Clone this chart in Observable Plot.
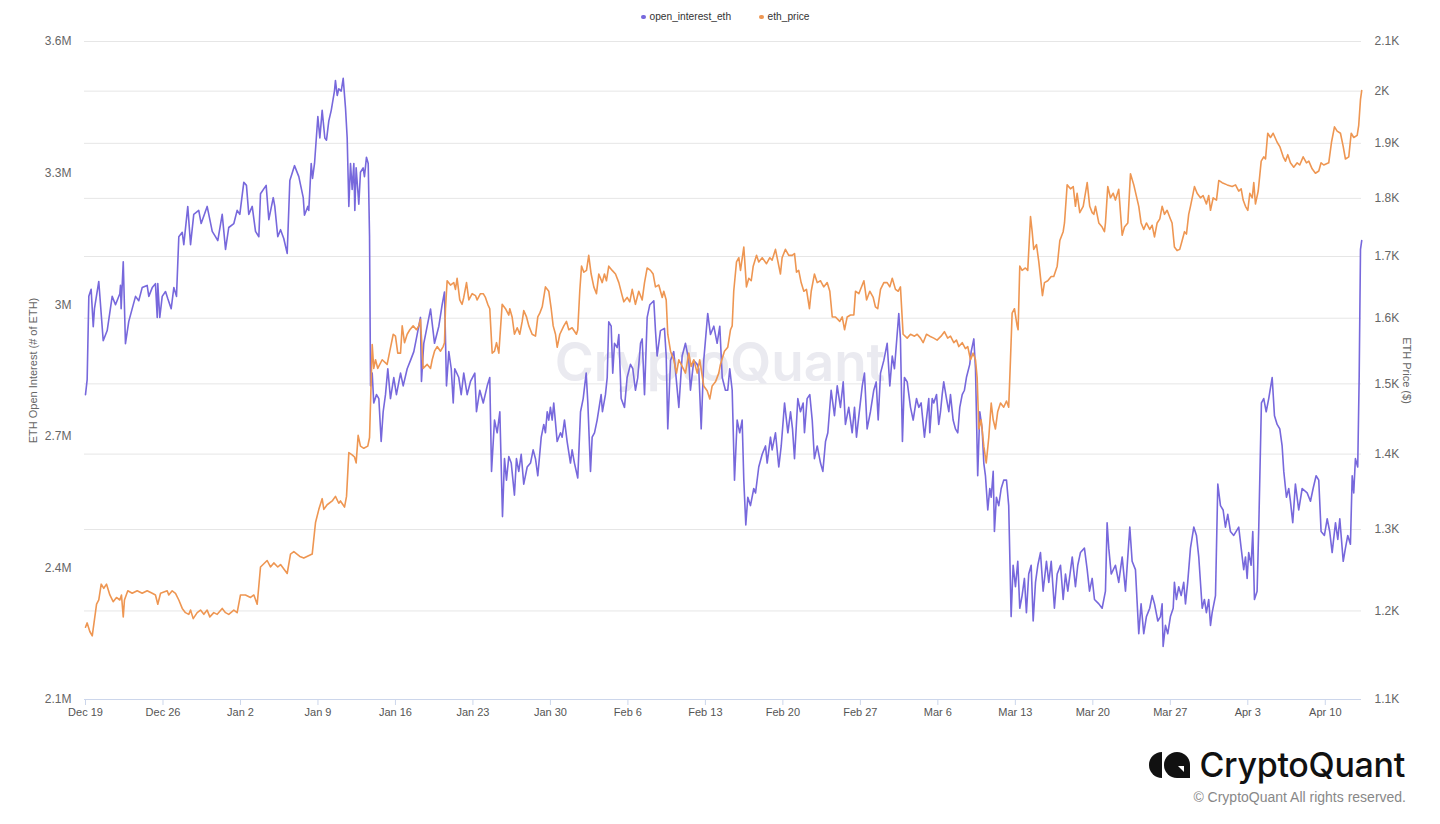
<!DOCTYPE html>
<html><head><meta charset="utf-8">
<script src="https://cdn.jsdelivr.net/npm/d3@7"></script>
<script src="https://cdn.jsdelivr.net/npm/@observablehq/plot@0.6"></script>
<style>
body{margin:0;background:#fff;font-family:"Liberation Sans",Arial,sans-serif;}
#wrap{position:relative;width:1440px;height:824px;overflow:hidden;}
#chart{position:absolute;left:0;top:0;}
#legend{position:absolute;top:10px;left:641px;font-size:10.2px;color:#333;white-space:nowrap;}
#legend span.item{display:inline-flex;align-items:center;margin-right:28px;}
#legend span.dot{display:inline-block;width:4.5px;height:4.5px;border-radius:50%;margin-right:4px;}
#logo{position:absolute;right:35px;top:744px;display:flex;align-items:center;}
#logo .name{font-family:Inter,"Noto Sans",sans-serif;font-weight:500;font-size:34px;color:#111;letter-spacing:-0.3px;margin-left:8px;}
#copy{position:absolute;right:34px;top:789px;font-size:14px;color:#888;}
</style></head>
<body>
<div id="wrap">
  <div id="chart"></div>
  <div id="legend"></div>
  <div id="logo">
    <svg width="42" height="28" viewBox="0 0 42 28">
      <path d="M13,1 A13,13 0 0 0 13,27 L13,1 Z" fill="#111"/>
      <circle cx="28" cy="14" r="13" fill="#111"/>
      <path d="M28,14 L41,14 L41,27 L28,27 Z" fill="#111"/>
      <path d="M29,15 L35,15 L35,21 Z" fill="#fff"/>
    </svg>
    <span class="name">CryptoQuant</span>
  </div>
  <div id="copy">© CryptoQuant All rights reserved.</div>
</div>
<script>
// ---- data ----
const startDate = "2022-12-19T00:00:00Z";
const xDomain = ["2022-12-18T21:50:00Z", "2023-04-13T06:30:00Z"];
const xTicks = ["2022-12-19","2022-12-26","2023-01-02","2023-01-09","2023-01-16","2023-01-23","2023-01-30","2023-02-06","2023-02-13","2023-02-20","2023-02-27","2023-03-06","2023-03-13","2023-03-20","2023-03-27","2023-04-03","2023-04-10"];
const oiTicks = [2.1e6, 2.4e6, 2.7e6, 3.0e6, 3.3e6, 3.6e6];
const priceTicks = [1100, 1200, 1300, 1400, 1500, 1600, 1700, 1800, 1900, 2000, 2100];
const seriesNames = ["open_interest_eth", "eth_price"];
const seriesColors = ["#7768dc", "#ee9652"];

// open interest (days since start, millions of ETH)
const oiDays = [0,0.15,0.3,0.51,0.7,0.81,1.2,1.6,1.96,2.41,2.71,3.1,3.16,3.22,3.41,3.61,3.91,4.22,4.52,4.81,5.12,5.57,5.72,6.03,6.32,6.48,6.53,6.71,6.93,7.23,7.43,7.74,7.98,8.22,8.43,8.74,8.88,9.24,9.49,9.78,10.23,10.45,10.99,11.45,11.74,11.95,12.35,12.65,12.94,13.4,13.7,13.94,14.3,14.54,14.75,15.06,15.36,15.66,15.81,16.32,16.56,16.96,17.1,17.37,17.62,17.91,18.22,18.46,18.88,19.27,19.67,19.78,20.08,20.17,20.39,20.51,20.69,20.99,21.17,21.38,21.62,21.77,21.98,22.2,22.49,22.58,22.74,22.88,23.1,23.28,23.49,23.64,23.79,23.94,24.09,24.24,24.33,24.45,24.69,24.84,25.08,25.2,25.38,25.54,25.66,25.75,25.9,26.04,26.29,26.5,26.71,26.89,27.1,27.31,27.55,27.85,28.09,28.46,28.7,29.06,29.36,29.66,29.96,30.26,30.35,30.56,31.17,31.53,31.92,32.22,32.43,32.61,32.82,33.04,33.22,33.36,33.72,33.94,34.17,34.48,34.78,35.17,35.32,35.62,35.93,36.29,36.52,36.68,36.95,37.19,37.43,37.67,37.85,38.03,38.24,38.46,38.75,38.93,39.14,39.36,39.59,39.9,40.2,40.44,40.65,40.86,41.17,41.4,41.55,41.71,41.85,42.0,42.16,42.3,42.61,42.91,43.06,43.27,43.51,43.81,43.96,44.17,44.47,44.72,44.96,45.23,45.38,45.62,45.77,45.98,46.22,46.4,46.58,46.7,46.97,47.13,47.27,47.49,47.63,47.79,48.03,48.18,48.39,48.69,48.93,49.23,49.44,49.68,49.89,50.14,50.29,50.5,50.74,50.98,51.34,51.49,51.64,51.94,52.3,52.46,52.6,52.85,53.14,53.6,53.9,54.2,54.5,54.65,54.95,55.26,55.4,55.62,55.85,56.21,56.46,56.76,57.06,57.3,57.52,57.81,58.02,58.2,58.42,58.63,58.87,59.1,59.32,59.47,59.65,59.83,60.07,60.37,60.53,60.82,61.13,61.43,61.58,61.88,62.03,62.33,62.63,62.85,63.15,63.45,63.69,63.87,64.05,64.35,64.59,64.83,64.95,65.19,65.43,65.65,65.85,66.1,66.4,66.61,66.85,67.06,67.36,67.66,67.91,68.2,68.45,68.65,68.95,69.26,69.47,69.65,69.95,70.17,70.37,70.61,70.91,71.21,71.43,71.61,71.82,72.12,72.42,72.66,72.88,73.08,73.26,73.47,73.62,73.8,73.98,74.23,74.53,74.77,75.07,75.28,75.49,75.79,76.18,76.27,76.49,76.63,76.88,77.08,77.24,77.39,77.53,77.78,77.99,78.14,78.38,78.59,78.8,78.98,79.2,79.4,79.58,79.88,80.01,80.25,80.4,80.6,80.79,81.0,81.15,81.3,81.51,81.69,81.82,82.0,82.11,82.29,82.5,82.72,82.95,83.2,83.4,83.62,83.8,84.01,84.22,84.4,84.61,84.82,85.0,85.21,85.43,85.61,85.82,86.03,86.27,86.51,86.81,87.02,87.24,87.53,87.78,88.08,88.32,88.53,88.74,89.14,89.43,89.64,89.88,90.24,90.49,90.7,90.94,91.15,91.54,91.84,92.14,92.29,92.44,92.66,93.04,93.34,93.65,93.95,94.34,94.55,94.85,95.15,95.36,95.6,95.84,96.14,96.36,96.57,96.87,97.11,97.26,97.35,97.56,97.77,98.01,98.26,98.37,98.55,98.76,98.98,99.21,99.37,99.57,99.82,100.12,100.36,100.57,100.88,101.08,101.26,101.47,101.63,101.78,102.08,102.29,102.53,102.77,102.98,103.19,103.43,103.73,104.18,104.4,104.63,104.79,104.94,105.08,105.3,105.45,105.6,105.84,105.99,106.23,106.44,106.66,106.89,107.2,107.41,107.65,107.89,108.1,108.25,108.49,108.7,108.85,109.06,109.3,109.6,109.91,110.36,110.66,110.9,111.17,111.41,111.62,111.92,112.17,112.4,112.62,112.92,113.13,113.31,113.62,113.82,114.03,114.27,114.43,114.57,114.72,114.93,115.06,115.18,115.29];
const oiValues = [2.795,2.829,3.019,3.035,2.95,2.991,3.053,2.918,2.941,3.019,3.0,3.025,3.044,2.991,3.098,2.911,2.962,2.991,3.019,3.009,3.039,3.044,3.019,3.039,3.048,2.971,3.048,2.971,3.019,3.03,3.014,2.991,3.039,3.019,3.155,3.165,3.137,3.224,3.137,3.206,3.215,3.185,3.224,3.167,3.155,3.146,3.206,3.126,3.176,3.185,3.215,3.206,3.279,3.272,3.206,3.224,3.167,3.155,3.253,3.272,3.194,3.244,3.224,3.155,3.171,3.151,3.117,3.283,3.317,3.292,3.244,3.204,3.224,3.215,3.322,3.288,3.322,3.429,3.38,3.443,3.38,3.375,3.419,3.443,3.487,3.511,3.477,3.492,3.487,3.516,3.448,3.38,3.224,3.322,3.263,3.322,3.215,3.312,3.229,3.302,3.312,3.292,3.336,3.322,3.155,2.815,2.844,2.776,2.795,2.786,2.688,2.756,2.795,2.854,2.786,2.834,2.795,2.844,2.815,2.854,2.873,2.893,2.932,2.971,2.825,2.912,2.99,2.912,2.951,3.0,3.029,2.815,2.893,2.854,2.776,2.854,2.834,2.795,2.844,2.795,2.825,2.844,2.756,2.805,2.776,2.815,2.834,2.62,2.737,2.708,2.756,2.517,2.649,2.6,2.654,2.639,2.566,2.649,2.62,2.659,2.591,2.63,2.639,2.669,2.649,2.61,2.698,2.727,2.708,2.756,2.737,2.766,2.737,2.776,2.688,2.708,2.698,2.737,2.688,2.639,2.669,2.639,2.605,2.756,2.786,2.844,2.776,2.62,2.698,2.708,2.737,2.766,2.795,2.756,2.795,2.834,2.961,2.951,2.844,2.912,2.902,2.932,2.786,2.766,2.834,2.864,2.854,2.805,2.834,2.912,2.922,2.795,2.971,3.0,3.009,2.941,2.883,2.941,2.946,2.883,2.717,2.873,2.893,2.766,2.883,2.912,2.873,2.805,2.873,2.864,2.854,2.717,2.873,2.98,2.932,2.951,2.912,2.951,2.834,2.805,2.805,2.854,2.805,2.6,2.737,2.708,2.737,2.6,2.498,2.561,2.542,2.581,2.571,2.63,2.659,2.678,2.639,2.698,2.669,2.708,2.63,2.678,2.776,2.708,2.756,2.717,2.649,2.786,2.756,2.776,2.708,2.786,2.795,2.737,2.649,2.678,2.639,2.62,2.688,2.708,2.805,2.747,2.815,2.766,2.824,2.727,2.766,2.708,2.766,2.698,2.766,2.815,2.844,2.717,2.756,2.805,2.824,2.737,2.844,2.873,2.912,2.815,2.883,2.854,2.912,2.98,2.922,2.688,2.834,2.824,2.766,2.737,2.786,2.766,2.776,2.698,2.786,2.708,2.786,2.776,2.795,2.727,2.756,2.795,2.824,2.786,2.756,2.795,2.737,2.717,2.708,2.766,2.795,2.805,2.834,2.864,2.893,2.922,2.854,2.61,2.756,2.717,2.639,2.61,2.532,2.581,2.561,2.62,2.483,2.561,2.542,2.581,2.6,2.6,2.542,2.289,2.406,2.357,2.415,2.308,2.337,2.376,2.298,2.386,2.406,2.279,2.367,2.406,2.435,2.347,2.415,2.367,2.415,2.308,2.386,2.406,2.328,2.386,2.347,2.425,2.357,2.406,2.435,2.445,2.396,2.347,2.376,2.328,2.318,2.308,2.347,2.503,2.445,2.386,2.406,2.367,2.425,2.347,2.493,2.415,2.396,2.25,2.318,2.25,2.289,2.308,2.337,2.318,2.279,2.289,2.318,2.221,2.269,2.25,2.289,2.308,2.367,2.328,2.357,2.337,2.367,2.318,2.367,2.445,2.493,2.474,2.425,2.308,2.328,2.298,2.328,2.269,2.298,2.337,2.591,2.542,2.532,2.493,2.522,2.483,2.474,2.493,2.445,2.396,2.425,2.376,2.435,2.406,2.483,2.328,2.347,2.493,2.776,2.786,2.756,2.786,2.834,2.747,2.727,2.717,2.678,2.62,2.561,2.581,2.552,2.503,2.591,2.532,2.581,2.571,2.552,2.581,2.61,2.6,2.483,2.474,2.512,2.483,2.435,2.503,2.465,2.512,2.415,2.445,2.474,2.454,2.61,2.571,2.649,2.63,2.834,3.126,3.146];

// ETH price (days since start, USD)
const priceDays = [0,0.15,0.39,0.61,1.0,1.2,1.42,1.65,1.9,2.2,2.5,2.8,3.1,3.25,3.41,3.52,3.82,4.22,4.67,5.12,5.57,6.03,6.32,6.53,6.78,7.38,7.52,7.83,8.13,8.43,8.74,9.03,9.33,9.49,9.73,10.09,10.39,10.69,10.99,11.23,11.59,11.9,12.35,12.65,12.94,13.4,13.7,14.0,14.45,14.91,15.21,15.51,15.81,16.41,16.71,17.01,17.37,17.62,18.22,18.52,18.82,19.36,19.72,20.48,20.78,21.08,21.38,21.53,21.83,22.29,22.58,22.88,23.03,23.4,23.58,23.79,24.09,24.3,24.45,24.63,24.84,25.14,25.5,25.66,25.84,25.9,26.04,26.2,26.4,26.8,27.25,27.49,27.8,28.0,28.21,28.46,28.61,28.82,29.06,29.3,29.6,29.9,30.11,30.26,30.5,30.87,31.17,31.32,31.53,31.77,32.07,32.31,32.43,32.52,32.67,32.97,33.27,33.42,33.57,33.81,34.02,34.17,34.42,34.63,34.93,35.23,35.38,35.68,35.93,36.13,36.34,36.52,36.74,36.95,37.13,37.34,37.64,37.94,38.24,38.33,38.54,38.75,39.0,39.23,39.45,39.59,39.84,40.05,40.35,40.65,40.86,41.04,41.26,41.55,41.85,42.07,42.25,42.46,42.61,42.85,43.21,43.45,43.66,43.96,44.35,44.47,44.65,44.81,45.02,45.26,45.46,45.68,45.92,46.16,46.37,46.68,46.88,47.06,47.27,47.58,47.88,48.18,48.48,48.63,48.93,49.17,49.39,49.68,49.98,50.29,50.5,50.74,51.04,51.28,51.49,51.79,52.1,52.24,52.46,52.6,52.85,53.14,53.39,53.6,53.9,54.2,54.5,54.71,54.95,55.26,55.49,55.85,56.16,56.4,56.61,56.91,57.21,57.36,57.72,58.02,58.27,58.42,58.56,58.81,59.02,59.17,59.47,59.71,59.92,60.14,60.32,60.62,60.82,61.13,61.52,61.82,62.03,62.33,62.78,62.93,63.23,63.53,63.84,64.05,64.23,64.43,64.65,64.89,65.13,65.4,65.56,65.85,66.1,66.4,66.69,67.0,67.24,67.46,67.75,68.14,68.36,68.57,68.81,69.11,69.41,69.56,69.86,70.32,70.56,70.85,71.16,71.36,71.57,71.82,72.12,72.42,72.66,72.88,73.17,73.42,73.62,73.86,74.23,74.53,74.89,75.13,75.43,75.67,75.97,76.27,76.63,76.93,77.29,77.59,77.89,78.14,78.44,78.68,78.89,79.2,79.49,79.7,79.95,80.19,80.4,80.55,80.7,80.91,81.15,81.37,81.6,81.82,82.0,82.2,82.41,82.66,82.95,83.2,83.4,83.56,83.71,83.92,84.16,84.25,84.4,84.61,84.91,85.12,85.37,85.52,85.66,85.91,86.12,86.45,86.63,86.93,87.24,87.47,87.78,88.02,88.32,88.44,88.68,88.98,89.23,89.43,89.58,89.82,90.13,90.49,90.72,90.94,91.09,91.24,91.54,91.84,92.05,92.14,92.35,92.59,92.84,93.04,93.34,93.65,93.86,94.16,94.4,94.7,95.15,95.36,95.6,95.84,96.14,96.36,96.57,96.81,97.05,97.26,97.47,97.71,98.01,98.16,98.37,98.61,98.85,99.07,99.28,99.46,99.66,99.82,100.06,100.18,100.42,100.72,100.96,101.26,101.47,101.63,101.87,102.17,102.38,102.68,103.14,103.59,103.89,104.18,104.4,104.58,104.79,105.0,105.18,105.4,105.54,105.69,105.94,106.21,106.44,106.6,106.8,107.05,107.29,107.65,107.89,108.2,108.4,108.61,108.85,109.15,109.46,109.69,110.0,110.3,110.51,110.81,111.11,111.41,111.62,111.86,112.31,112.56,112.83,113.07,113.37,113.62,113.82,114.12,114.34,114.57,114.88,115.02,115.18,115.29];
const priceValues = [1181,1186,1176,1171,1208,1213,1232,1227,1232,1219,1211,1216,1213,1219,1193,1213,1224,1221,1224,1221,1224,1221,1219,1208,1221,1224,1219,1224,1221,1213,1203,1198,1196,1201,1191,1198,1201,1196,1201,1193,1198,1196,1203,1198,1196,1201,1198,1219,1219,1216,1219,1208,1253,1261,1253,1258,1253,1256,1245,1269,1272,1266,1264,1269,1309,1326,1340,1326,1332,1337,1343,1334,1337,1329,1343,1402,1399,1396,1388,1426,1411,1408,1411,1423,1523,1559,1523,1536,1523,1536,1529,1549,1575,1572,1546,1546,1588,1562,1575,1582,1588,1582,1588,1598,1523,1529,1523,1536,1549,1556,1549,1556,1562,1615,1660,1653,1657,1646,1664,1629,1622,1633,1657,1629,1639,1636,1629,1639,1639,1633,1622,1615,1546,1549,1562,1546,1622,1615,1605,1615,1602,1575,1585,1575,1595,1612,1602,1588,1575,1572,1602,1608,1618,1650,1643,1615,1588,1575,1555,1575,1588,1595,1582,1585,1575,1582,1643,1684,1674,1677,1702,1671,1650,1639,1671,1657,1671,1660,1684,1677,1671,1657,1636,1626,1633,1626,1646,1622,1643,1629,1657,1681,1677,1671,1650,1653,1633,1643,1629,1575,1549,1536,1516,1536,1526,1516,1546,1526,1536,1516,1536,1497,1490,1478,1497,1503,1516,1529,1549,1555,1582,1588,1643,1691,1698,1677,1716,1650,1664,1660,1684,1702,1691,1698,1688,1698,1694,1712,1671,1698,1712,1702,1702,1705,1674,1677,1657,1643,1646,1615,1643,1671,1657,1660,1650,1657,1643,1602,1602,1595,1602,1582,1602,1605,1605,1643,1639,1660,1629,1643,1633,1618,1615,1646,1657,1657,1650,1664,1646,1643,1650,1575,1569,1575,1572,1575,1569,1562,1575,1572,1569,1566,1572,1579,1569,1572,1562,1566,1556,1562,1553,1556,1536,1546,1536,1509,1435,1448,1411,1388,1423,1472,1448,1435,1460,1472,1466,1475,1466,1536,1608,1615,1588,1582,1684,1677,1681,1677,1768,1742,1712,1720,1691,1636,1657,1660,1667,1667,1684,1727,1742,1757,1824,1817,1821,1786,1809,1775,1786,1828,1786,1775,1772,1786,1757,1750,1742,1757,1821,1801,1809,1797,1816,1736,1750,1757,1844,1824,1786,1757,1746,1757,1746,1753,1733,1757,1764,1786,1772,1779,1764,1757,1716,1710,1712,1727,1742,1738,1772,1786,1809,1821,1809,1801,1805,1790,1805,1779,1801,1797,1832,1828,1824,1821,1824,1813,1817,1797,1786,1779,1809,1801,1828,1790,1813,1867,1875,1871,1919,1911,1919,1902,1894,1875,1867,1879,1864,1856,1864,1860,1875,1864,1867,1853,1845,1849,1864,1860,1864,1902,1931,1923,1919,1894,1871,1875,1919,1911,1915,1934,1984,2001];

// ---- build ----
const DAY = 864e5;
const t0 = new Date(startDate).getTime();
// right (price) axis is logarithmic; map it into the left axis' space
const priceToY = d3.scaleLog().domain([priceTicks[0], priceTicks[priceTicks.length - 1]]).range([oiTicks[0], oiTicks[oiTicks.length - 1]]);
const oi = oiDays.map((d, i) => ({t: new Date(t0 + d * DAY), v: oiValues[i] * 1e6}));
const price = priceDays.map((d, i) => ({t: new Date(t0 + d * DAY), v: priceToY(priceValues[i])}));
const fmtS = d3.format("~s");

const chart = Plot.plot({
  width: 1440, height: 730,
  marginLeft: 84, marginRight: 79, marginTop: 41, marginBottom: 31,
  style: {fontFamily: "'Liberation Sans', Arial, sans-serif", fontSize: "12px", color: "#666", background: "#fff", overflow: "visible"},
  x: {type: "utc", domain: xDomain.map(d => new Date(d))},
  y: {domain: [oiTicks[0], oiTicks[oiTicks.length - 1]]},
  marks: [
    Plot.ruleY(priceTicks.map(priceToY), {stroke: "#e6e6e6"}),
    Plot.text(["CryptoQuant"], {frameAnchor: "middle", dx: -3, dy: -6, fontSize: 53, fontWeight: 600, fill: "#eaeaf0", fontFamily: "Inter, sans-serif"}),
    Plot.ruleY([oiTicks[0]], {stroke: "#ccd6eb"}),
    Plot.axisX({ticks: xTicks.map(d => new Date(d + "T00:00:00Z")), tickFormat: d3.utcFormat("%b %-d"), tickSize: 6, tickPadding: 3, stroke: "#ccd6eb", fill: "#555", fontSize: 11, label: null}),
    Plot.axisY(oiTicks, {anchor: "left", tickSize: 0, tickPadding: 13, tickFormat: fmtS, fill: "#666", label: null}),
    Plot.axisY(priceTicks.map(priceToY), {anchor: "right", tickSize: 0, tickPadding: 13, fill: "#666", label: null,
      tickFormat: d => fmtS(Math.round(priceToY.invert(d))).replace("k", "K")}),
    Plot.text(["ETH Open Interest (# of ETH)"], {frameAnchor: "left", textAnchor: "middle", dx: -51, rotate: -90, fontSize: 11, fill: "#666"}),
    Plot.text(["ETH Price ($)"], {frameAnchor: "right", textAnchor: "middle", dx: 45, rotate: 90, fontSize: 11, fill: "#666"}),
    Plot.line(oi, {x: "t", y: "v", stroke: seriesColors[0], strokeWidth: 1.6}),
    Plot.line(price, {x: "t", y: "v", stroke: seriesColors[1], strokeWidth: 1.6})
  ]
});
document.getElementById("chart").appendChild(chart);

const legend = document.getElementById("legend");
seriesNames.forEach((n, i) => {
  const item = document.createElement("span");
  item.className = "item";
  item.innerHTML = `<span class="dot" style="background:${seriesColors[i]}"></span>${n}`;
  legend.appendChild(item);
});
</script>
</body></html>
